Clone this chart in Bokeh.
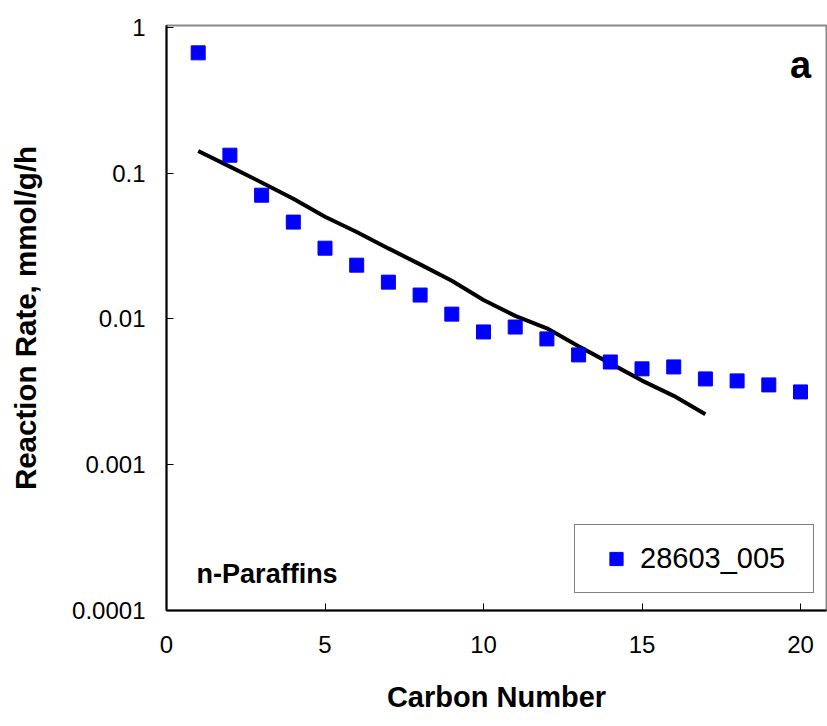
from bokeh.plotting import figure
from bokeh.models import (Range1d, FixedTicker, CustomJSTickFormatter, Legend, LegendItem, Label)
from bokeh.embed import file_html
from bokeh.resources import INLINE

# Data
carbon_number = list(range(1, 21))
rate_28603_005 = [0.67, 0.133, 0.0707, 0.0462, 0.0306, 0.0234, 0.0179, 0.0146, 0.0108, 0.00815,
                  0.00881, 0.0073, 0.00567, 0.00507, 0.00455, 0.00469, 0.00388, 0.00376, 0.00353, 0.00316]
fit_carbon = list(range(1, 18))
fit_rate = [0.142, 0.111, 0.0865, 0.0668, 0.0503, 0.0395, 0.0305, 0.0237, 0.0183, 0.0135,
            0.0105, 0.00863, 0.0065, 0.00496, 0.00378, 0.00297, 0.00222]
x_ticks = [0, 5, 10, 15, 20]
y_ticks = [0.0001, 0.001, 0.01, 0.1, 1]
y_tick_labels = ["0.0001", "0.001", "0.01", "0.1", "1"]

FONT = "Liberation Sans"

p = figure(width=827, height=726, output_backend="svg", toolbar_location=None,
           y_axis_type="log",
           x_range=Range1d(0, 20.82), y_range=Range1d(1e-4, 1.032),
           min_border_left=166, min_border_right=1, min_border_top=25, min_border_bottom=116)

p.background_fill_color = "white"
p.border_fill_color = "white"
p.outline_line_color = "#888888"
p.outline_line_width = 2
p.xgrid.visible = False
p.ygrid.visible = False

# axes
p.xaxis.ticker = FixedTicker(ticks=x_ticks)
p.yaxis.ticker = FixedTicker(ticks=y_ticks)
p.yaxis.formatter = CustomJSTickFormatter(args=dict(labels=y_tick_labels, vals=y_ticks), code="""
    for (let i = 0; i < vals.length; i++) { if (Math.abs(Math.log10(vals[i]) - Math.log10(tick)) < 1e-6) return labels[i]; }
    return "";
""")
for ax in (p.xaxis[0], p.yaxis[0]):
    ax.axis_line_color = "black"
    ax.axis_line_width = 2
    ax.major_tick_line_color = "black"
    ax.major_tick_line_width = 1
    ax.major_tick_in = 7
    ax.major_tick_out = 0
    ax.minor_tick_line_color = None
    ax.major_label_text_font = FONT
    ax.major_label_text_font_size = "24px"
    ax.major_label_text_color = "black"
    ax.axis_label_text_font = FONT
    ax.axis_label_text_font_style = "bold"
    ax.axis_label_text_color = "black"

p.xaxis.axis_label = "Carbon Number"
p.yaxis.axis_label = "Reaction Rate, mmol/g/h"
p.xaxis.axis_label_text_font_size = "29px"
p.yaxis.axis_label_text_font_size = "29.5px"
p.xaxis.major_label_standoff = 25
p.yaxis.major_label_standoff = 21
p.xaxis.axis_label_standoff = 25
p.yaxis.axis_label_standoff = 27

# fit line
p.line(fit_carbon, fit_rate, line_color="black", line_width=4)

# data points
sq = p.scatter(carbon_number, rate_28603_005, marker="square", size=14,
               fill_color="#0000ff", line_color="#0000ff")

legend = Legend(items=[LegendItem(label="28603_005", renderers=[sq])],
                location=(408, 17),
                padding=17, spacing=0, margin=0,
                glyph_width=48, glyph_height=33,
                label_standoff=0, label_width=156, label_height=20,
                label_text_font=FONT, label_text_font_size="29px", label_text_color="black",
                border_line_color="black", border_line_width=1,
                background_fill_color="white", background_fill_alpha=1)
p.add_layout(legend, "center")

p.add_layout(Label(x=20.0, y=0.55, text="a", text_font=FONT, text_font_size="38px",
                   text_font_style="bold", text_align="center", text_baseline="middle",
                   text_color="black"))
p.add_layout(Label(x=0.95, y=1.79e-4, text="n-Paraffins", text_font=FONT, text_font_size="27px",
                   text_font_style="bold", text_align="left", text_baseline="middle",
                   text_color="black"))

open("out.html", "w").write(file_html(p, INLINE))
